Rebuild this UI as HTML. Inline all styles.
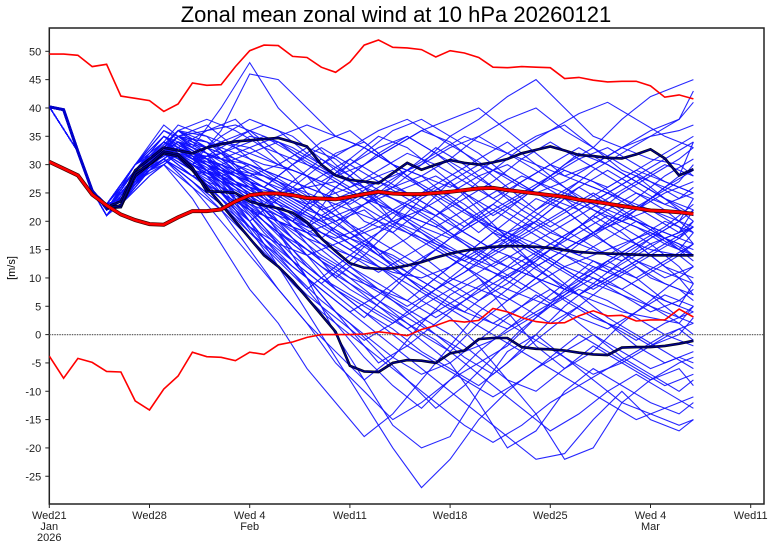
<!DOCTYPE html>
<html><head><meta charset="utf-8"><style>
html,body{margin:0;padding:0;background:#fff;}
svg{display:block;font-family:"Liberation Sans",sans-serif;}
</style></head><body>
<svg id="chart" width="771" height="548" viewBox="0 0 771 548" xmlns="http://www.w3.org/2000/svg">
<text x="396" y="22" font-size="22" text-anchor="middle">Zonal mean zonal wind at 10 hPa 20260121</text>
<text x="0" y="0" font-size="11" text-anchor="middle" transform="translate(15,268) rotate(-90)">[m/s]</text>
<g id="plot"></g>
</svg>
<script>
const xTickDays = [0,7,14,21,28,35,42,49];
const xTickLabels = [["Wed21","Jan","2026"],["Wed28"],["Wed 4","Feb"],["Wed11"],["Wed18"],["Wed25"],["Wed 4","Mar"],["Wed11"]];
const yTicks = [-25,-20,-15,-10,-5,0,5,10,15,20,25,30,35,40,45,50];
const climMax = [49.5,49.5,49.3,47.3,47.7,42.1,41.7,41.3,39.4,40.7,44.4,44.0,44.1,47.3,50.1,51.1,51.0,49.1,48.9,47.2,46.3,48.1,51.1,52.0,50.7,50.6,50.3,49.0,50.1,49.7,48.9,47.2,47.1,47.3,47.2,47.1,45.2,45.4,44.9,44.6,44.7,44.7,43.9,41.9,42.3,41.6];
const climMin = [-3.8,-7.7,-4.2,-4.9,-6.5,-6.6,-11.7,-13.3,-9.6,-7.3,-3.1,-3.9,-4.0,-4.6,-3.1,-3.5,-1.8,-1.3,-0.5,0,0,0,0.1,0.5,0.2,-0.2,0.9,1.6,2.5,2.2,2.5,4.6,4.0,3.0,2.3,2.0,2.1,3.3,4.2,3.3,3.4,2.4,2.6,2.6,4.5,3.1];
const climMean = [30.5,29.3,28.1,24.7,22.8,21.2,20.2,19.5,19.4,20.7,21.8,21.8,22.1,23.5,24.6,24.9,24.9,24.6,24.1,24.0,23.9,24.3,24.8,25.2,24.9,24.8,24.8,25.0,25.2,25.5,25.8,25.9,25.5,25.2,24.9,24.6,24.3,23.8,23.5,23.1,22.7,22.3,21.9,21.8,21.6,21.3];
const ensMean = [40.2,39.7,32.3,25.4,22.3,22.8,28.5,30.1,32.3,31.8,29.5,25.3,25.2,25.0,23.5,22.8,22.3,21.5,19.8,17.0,14.7,12.6,11.8,11.6,11.7,12.2,12.8,13.6,14.3,14.8,15.2,15.5,15.6,15.6,15.5,15.3,14.9,14.6,14.4,14.3,14.2,14.1,14.0,14.0,14.0,14.0];
const darkHigh = [40.2,39.7,32.3,25.4,22.5,23.5,29,31,33,32.5,32,33,33.6,34.1,34.3,34.5,34.7,34.0,33.2,30,28.1,27.3,27.0,26.7,28.5,30.3,29.1,30.0,30.8,30.3,30.0,30.4,31.0,32.0,32.6,33.2,32.5,31.7,31.5,31.2,31.1,31.8,32.7,31.1,28.1,29.2];
const darkLow = [40.2,39.7,32.3,25.4,22.3,22.5,28,30,32,31.5,29,26,23,20,17,14,12,9.5,6.5,3.5,0.5,-5.5,-6.5,-6.6,-5,-4.5,-4.6,-5,-3.3,-2.8,-0.8,-0.6,-0.6,-2.2,-2.5,-2.6,-2.8,-3.2,-3.5,-3.6,-2.3,-2.2,-2.2,-2.0,-1.6,-1.1];
const memberDays = [0,2,3,4,6,8,10,12,14,16,18,20,22,24,26,28,30,32,34,36,38,40,42,44,45];
const memberDaysB = [0,2,3,4,5,7,9,11,13,15,17,19,21,23,25,27,29,31,33,35,37,39,41,43,45];
const memberHead = [40.2,32.3,25.4];
const members = [
[22,28,33,30,36,46,45,40,35,33,30,28,31,35,38,40,36,33,38,42,44,45],
[23,30,37,33,40,48,40,35,30,26,20,22,27,30,28,25,27,30,33,35,36,37],
[22,29,35,31,32,35,34,30,27,24,26,30,35,38,42,45,40,35,33,31,30,28],
[21,27,32,28,25,22,18,12,8,5,2,6,10,14,18,20,17,15,13,16,18,20],
[22,28,31,26,22,15,8,2,-5,-10,-15,-12,-8,-5,-2,3,8,12,10,7,5,9],
[23,29,34,30,27,20,12,4,-4,-12,-20,-27,-22,-15,-10,-6,-3,0,-4,-7,-10,-8],
[22,30,33,32,34,33,30,28,25,20,18,22,25,28,30,27,24,20,17,15,14,12],
[21,28,30,24,16,8,2,-6,-12,-18,-14,-8,-2,4,8,12,15,18,20,22,19,16],
[22,27,32,29,28,30,27,23,18,14,10,6,3,-2,-8,-14,-22,-20,-12,-8,-5,-4],
[23,30,35,32,30,26,20,14,8,4,1,-3,-6,-9,-5,0,5,9,13,17,20,22],
[22,29,33,30,33,36,32,28,22,17,12,8,12,16,20,24,22,18,14,10,8,6],
[21,28,31,27,23,18,14,10,6,2,-2,-6,-10,-14,-18,-22,-21,-15,-10,-15,-17,-15],
[22,29,34,31,35,38,36,32,28,30,33,36,34,30,26,22,25,29,32,35,38,41],
[23,30,33,29,25,22,20,17,15,13,11,10,12,15,17,20,24,22,19,16,12,9],
[22,28,32,30,28,25,18,10,0,-8,-4,2,7,10,4,-2,-6,-3,2,6,10,12],
[21,27,31,28,26,24,21,17,13,9,6,3,0,-4,-8,-10,-6,-2,-5,-8,-6,-9],
[22,29,35,33,31,30,28,26,24,26,28,30,33,35,32,29,26,23,20,18,16,14],
[23,30,36,34,32,27,22,16,10,14,19,24,27,22,17,12,8,6,4,3,2,5],
[22,28,32,28,24,20,24,28,32,34,30,26,22,18,22,26,30,33,30,27,24,26],
[21,27,30,26,20,14,8,2,-3,-8,-16,-20,-18,-10,-3,0,-4,-8,-12,-14,-16,-15],
[22,29,33,31,29,27,25,22,20,23,26,28,24,20,16,12,15,18,21,19,17,20],
[23,29,34,30,26,22,18,15,12,8,4,0,-3,2,6,10,14,11,8,5,2,0],
[22,28,33,29,27,26,25,26,27,24,20,17,14,12,10,13,17,21,25,28,31,33],
[21,28,31,28,30,32,34,31,28,32,36,38,35,32,28,25,22,18,21,24,27,30],
[22,30,35,31,27,23,19,15,11,7,3,-1,-5,-1,3,7,4,0,-3,-6,-4,-5],
[23,29,33,29,24,19,16,14,16,18,20,18,15,13,16,19,22,25,22,19,15,18],
[22,28,32,28,25,21,16,10,4,0,-4,-7,-5,-12,-20,-17,-10,-6,-9,-12,-14,-12],
[21,28,33,30,28,25,22,19,17,19,22,25,28,31,34,30,26,22,20,24,28,34],
[22,29,34,32,31,29,27,24,21,18,15,12,9,6,9,13,17,21,18,14,10,7],
[23,30,36,33,31,33,35,37,35,33,30,28,26,29,32,35,37,33,29,27,25,24],
[22,28,31,27,22,17,12,7,3,-1,2,5,8,11,14,10,6,3,1,-2,0,3],
[22,29,33,30,27,24,20,18,20,22,18,14,10,8,6,9,12,14,16,18,15,13],
[21,27,31,27,23,19,15,11,7,3,8,13,17,20,18,15,12,10,8,11,14,16],
[23,30,34,31,28,26,24,21,18,16,14,11,8,5,2,-1,-4,-7,-5,-2,1,-1],
[22,28,32,29,26,23,21,19,22,25,22,19,17,20,23,26,29,27,24,21,18,22],
[22,29,35,32,29,28,30,33,31,27,24,21,18,15,12,10,8,11,14,17,20,24],
[21,28,32,29,24,18,13,8,12,16,12,8,5,3,1,4,7,10,7,4,6,8],
[23,30,34,31,29,27,25,23,25,27,29,26,23,20,17,14,11,8,11,14,17,19],
[22,28,33,29,25,20,14,8,2,-4,-9,-13,-8,-3,1,5,9,13,10,7,3,5],
[22,29,34,31,30,27,23,19,26,30,33,36,38,40,36,32,28,30,33,36,38,43]
];
const membersB = [
[22,24,30,34,31,27,24,20,26,31,35,33,29,25,21,24,28,32,30,27,24,22],
[21,23,29,33,36,38,33,28,22,18,14,17,21,25,29,33,36,39,41,38,35,33],
[22,25,31,36,32,24,18,13,9,13,18,23,20,16,12,9,6,9,13,16,12,10],
[23,24,29,35,37,33,29,26,23,19,15,11,8,11,15,19,23,26,23,20,17,19],
[22,23,28,32,28,22,15,9,4,0,-4,-8,-12,-16,-19,-16,-12,-9,-12,-15,-13,-11],
[21,24,30,33,29,26,23,27,31,28,24,20,16,13,16,20,24,27,25,22,26,29],
[22,25,31,37,35,30,24,20,16,12,8,4,0,-4,-7,-3,1,5,2,-2,-5,-3],
[23,24,30,34,33,35,37,35,31,27,23,20,17,14,11,8,12,16,20,24,28,31],
[22,23,29,33,30,27,25,22,18,15,12,9,6,3,0,-3,-6,-9,-6,-3,0,2],
[21,24,30,35,34,32,30,29,27,30,33,35,32,28,24,21,18,16,19,22,25,27],
[22,25,31,34,29,22,16,11,6,2,-3,-8,-13,-9,-4,1,5,9,13,10,6,4],
[23,24,29,32,28,24,21,19,17,21,25,29,33,30,26,22,19,22,25,28,24,21],
[22,23,30,36,38,36,33,31,29,27,25,23,21,24,27,31,34,31,28,25,22,18],
[21,24,31,35,31,25,19,13,7,1,-5,-2,2,6,10,14,11,7,3,0,-3,-6],
[22,25,29,33,30,28,26,23,20,17,20,23,26,23,19,16,13,10,13,16,19,23],
[23,24,30,34,32,30,27,24,21,18,15,12,15,19,23,27,30,33,30,27,24,20],
[22,23,31,36,33,29,26,30,34,36,32,28,25,22,19,17,15,13,11,14,17,15],
[21,24,29,33,29,23,17,12,8,4,7,11,15,12,8,5,2,5,9,12,9,7],
[22,25,30,35,34,31,28,25,22,24,27,25,22,18,15,18,22,26,29,26,23,25],
[23,24,31,34,30,26,21,16,12,8,5,2,-1,-5,-9,-13,-17,-14,-10,-7,-10,-13],
[22,23,29,32,31,33,35,32,29,26,29,32,30,27,24,27,30,28,26,29,32,35],
[21,24,30,36,33,29,25,21,18,15,18,21,19,16,13,11,9,7,10,13,11,9],
[22,25,31,34,31,28,24,20,16,12,9,6,3,6,9,12,15,18,21,19,16,14],
[23,24,30,33,30,27,24,22,20,22,24,26,28,25,22,19,16,14,12,10,13,16],
[22,23,28,32,29,25,20,15,10,6,2,-2,-5,-8,-11,-8,-4,0,-3,-6,-9,-7],
[21,24,31,35,36,37,35,33,30,33,36,38,35,32,29,26,24,22,25,28,31,34],
[22,25,30,34,30,26,23,20,17,14,11,14,17,20,23,20,17,14,17,20,17,14],
[23,24,29,33,31,29,27,25,28,31,28,25,22,19,22,25,28,31,33,30,27,25],
[22,23,30,35,32,27,22,17,13,10,8,6,10,14,18,16,13,10,8,6,4,2],
[21,24,31,34,31,28,25,22,19,16,13,10,7,4,8,12,16,19,16,13,10,12],
[22,25,30,36,34,30,27,24,21,24,21,18,15,12,9,7,5,3,1,4,7,5],
[23,24,29,33,30,28,26,30,33,30,27,24,21,18,15,13,16,19,22,25,23,21],
[22,23,31,34,31,27,22,18,14,11,8,5,8,11,14,17,20,23,26,29,27,25],
[21,24,30,35,32,29,26,23,20,17,14,11,8,5,2,5,8,5,2,-1,2,4],
[22,25,29,32,29,26,23,20,24,28,32,35,32,29,26,23,20,17,14,17,20,18],
[23,24,30,36,35,33,31,29,27,25,23,21,19,22,25,28,26,24,22,20,18,16],
[22,23,29,33,29,24,19,14,10,7,4,1,4,7,10,13,10,7,10,13,16,19],
[21,24,31,34,30,25,20,16,12,9,6,3,0,-3,-1,2,5,8,6,3,0,-2],
[22,25,30,35,33,31,29,27,25,23,26,29,32,35,33,31,29,27,25,23,21,19],
[23,24,30,33,31,29,28,26,24,22,20,18,16,14,12,15,18,21,24,27,30,28]
];

const NS='http://www.w3.org/2000/svg';
const L=49.3,R=764,T=28,B=504;
const x=d=>L+d*(100.2/7);
const y=v=>334.6-v*5.666;
const plot=document.getElementById('plot');
function mk(tag,attrs,parent){const e=document.createElementNS(NS,tag);for(const k in attrs)e.setAttribute(k,attrs[k]);(parent||plot).appendChild(e);return e;}
function pts(days,vals){return vals.map((v,i)=>x(days[i]).toFixed(1)+','+y(v).toFixed(1)).join(' ');}
const daily=climMean.map((_,i)=>i);

const defs=mk('defs',{});
const cp=mk('clipPath',{id:'clip'},defs);
mk('rect',{x:L,y:T,width:R-L,height:B-T},cp);

const frame=mk('rect',{x:L,y:T,width:R-L,height:B-T,fill:'none',stroke:'#222','stroke-width':1.5});



yTicks.forEach(v=>{
  const t=mk('line',{x1:L-4,x2:L,y1:y(v),y2:y(v),stroke:'#222'});
  
  
  const lb=mk('text',{x:L-8,y:y(v)+4,'font-size':11,'text-anchor':'end',fill:'#222'});
  lb.textContent=v;
  
  
});
xTickDays.forEach((d,i)=>{
  const t=mk('line',{x1:x(d),x2:x(d),y1:B,y2:B+4,stroke:'#222'});
  
  
  xTickLabels[i].forEach((s,j)=>{
    const lb=mk('text',{x:x(d),y:B+15+j*11,'font-size':11,'text-anchor':'middle',fill:'#222'});
    lb.textContent=s;
    
    
  });
});

const g=mk('g',{'clip-path':'url(#clip)'});



function drawMember(days,m){
  const vals=memberHead.concat(m);
  const p=mk('polyline',{points:pts(days,vals),fill:'none',stroke:'#1010ff','stroke-width':1.1,'stroke-opacity':0.9},g);
  
  
}
members.forEach(m=>drawMember(memberDays,m));
membersB.forEach(m=>drawMember(memberDaysB,m));

const z=mk('line',{x1:L,x2:R,y1:y(0),y2:y(0),stroke:'#666','stroke-width':1.2,'stroke-dasharray':'1.5,1'},g);



function dark(vals,name){
  const o=mk('polyline',{points:pts(daily,vals),fill:'none',stroke:'#000','stroke-width':2.6},g);
  
  
  const p=mk('polyline',{points:pts(daily,vals),fill:'none',stroke:'#000088','stroke-width':1.5},g);
  
  
}
dark(darkHigh,'member-high-line');
dark(darkLow,'member-low-line');
dark(ensMean,'ensemble-mean-line');
const init=mk('polyline',{points:pts(daily.slice(0,5),ensMean.slice(0,5)),fill:'none',stroke:'#0000cc','stroke-width':3},g);



const c1=mk('polyline',{points:pts(daily,climMax),fill:'none',stroke:'#ff0000','stroke-width':1.6},g);


const c2=mk('polyline',{points:pts(daily,climMin),fill:'none',stroke:'#ff0000','stroke-width':1.6},g);


const c3o=mk('polyline',{points:pts(daily,climMean),fill:'none',stroke:'#400','stroke-width':4},g);


const c3=mk('polyline',{points:pts(daily,climMean),fill:'none',stroke:'#ff0000','stroke-width':2.6},g);


</script>
</body></html>
